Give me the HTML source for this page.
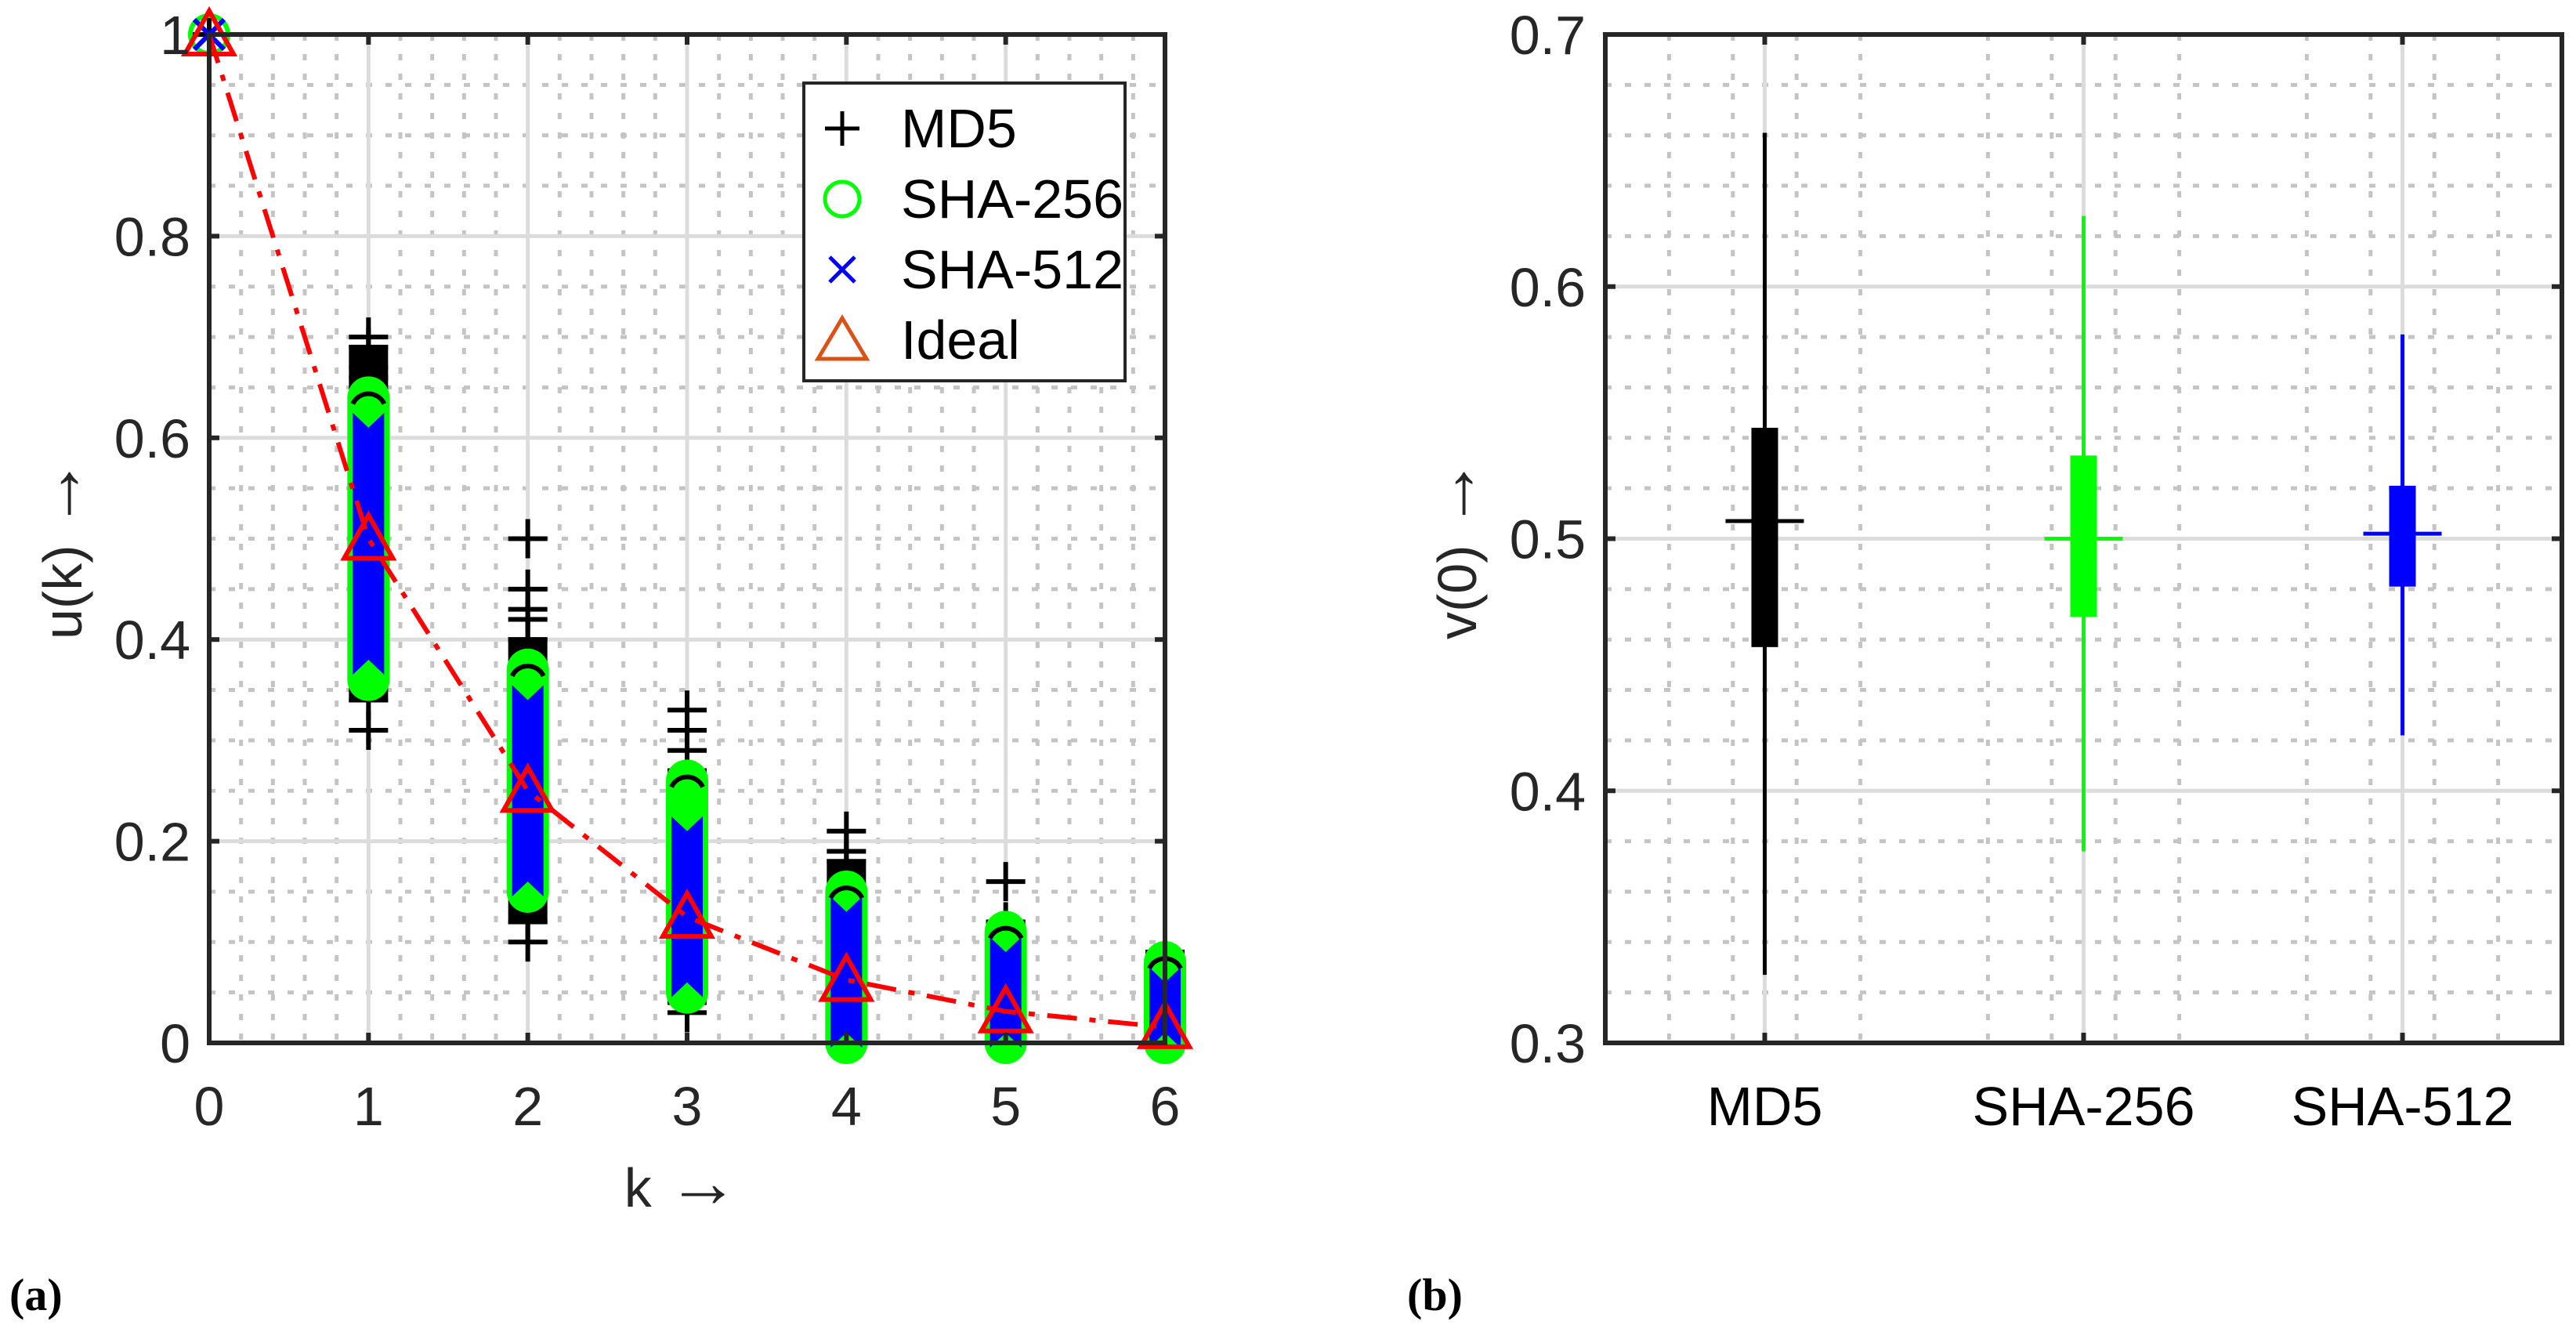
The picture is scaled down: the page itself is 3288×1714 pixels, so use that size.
<!DOCTYPE html>
<html><head><meta charset="utf-8"><style>
html,body{margin:0;padding:0;background:#fff;}
svg{display:block;}
text{font-family:"Liberation Sans",sans-serif;fill:#262626;}
</style></head><body>
<svg id="fig" width="3288" height="1714" viewBox="0 0 3288 1714" xmlns="http://www.w3.org/2000/svg">
<g id="pa"></g>
<g id="pb"></g>
<text x="12" y="1672" style="font-family:'Liberation Serif',serif;font-weight:bold;font-size:58px;fill:#000">(a)</text>
<text x="1796" y="1672" style="font-family:'Liberation Serif',serif;font-weight:bold;font-size:58px;fill:#000">(b)</text>
</svg>
<script>
// ---------- Panel A data ----------
const kValues = [0,1,2,3,4,5,6];
const md5Lo = [1,0.34,0.12,0.04,0.0,0.0,0.0];
const md5Hi = [1,0.69,0.40,0.27,0.18,0.12,0.09];
const md5Outliers = [[],[0.31,0.66,0.67,0.70],[0.10,0.42,0.43,0.45,0.50],[0.03,0.29,0.31,0.33],[0.19,0.21],[0.16],[]];
const sha256Lo = [1,0.36,0.15,0.05,0.0,0.0,0.0];
const sha256Hi = [1,0.64,0.37,0.26,0.15,0.11,0.08];
const sha512Lo = [1,0.38,0.16,0.06,0.01,0.01,0.01];
const sha512Hi = [1,0.61,0.34,0.21,0.13,0.09,0.06];
const idealVals = [1,0.5,0.25,0.125,0.0625,0.03125,0.015625];
const yTicksA = [0,0.2,0.4,0.6,0.8,1];
const yTickLabelsA = ["0","0.2","0.4","0.6","0.8","1"];
// ---------- Panel B data ----------
const boxCats = ["MD5","SHA-256","SHA-512"];
const boxColors = ["#000000","#00ff00","#0000ff"];
const whiskLo = [0.327,0.376,0.422];
const whiskHi = [0.661,0.628,0.581];
const q1 = [0.457,0.469,0.481];
const q3 = [0.544,0.533,0.521];
const medians = [0.507,0.500,0.502];
const yTicksB = [0.3,0.4,0.5,0.6,0.7];
const yTickLabelsB = ["0.3","0.4","0.5","0.6","0.7"];

const NS="http://www.w3.org/2000/svg";
function mk(parent,tag,attrs,txt){const e=document.createElementNS(NS,tag);for(const k in attrs)e.setAttribute(k,attrs[k]);if(txt!==undefined)e.textContent=txt;parent.appendChild(e);return e;}
const FS=70;

// ---------- Panel A ----------
const A={x0:267,x1:1487,y0:1331,y1:44};
const xA=v=>A.x0+(v-0)/(6-0)*(A.x1-A.x0);
const yA=v=>A.y0-(v-0)/(1-0)*(A.y0-A.y1);
const pa=document.getElementById('pa');
for(let i=0;i<=30;i++){const v=i*0.2;if(i%5===0)continue;
 const l=mk(pa,'line',{x1:xA(v),x2:xA(v),y1:A.y1,y2:A.y0,stroke:'#c4c4c4','stroke-width':5,'stroke-dasharray':'8 17'});
 }
for(let i=0;i<=20;i++){const v=i*0.05;if(i%4===0)continue;
 const l=mk(pa,'line',{x1:A.x0,x2:A.x1,y1:yA(v),y2:yA(v),stroke:'#c4c4c4','stroke-width':5,'stroke-dasharray':'8 17'});
 }
kValues.forEach(k=>{const l=mk(pa,'line',{x1:xA(k),x2:xA(k),y1:A.y1,y2:A.y0,stroke:'#dcdcdc','stroke-width':5});
 });
yTicksA.forEach(v=>{const l=mk(pa,'line',{x1:A.x0,x2:A.x1,y1:yA(v),y2:yA(v),stroke:'#dcdcdc','stroke-width':5});
 });
const sg=mk(pa,'g',{});

function plus(g,cx,cy){mk(g,'path',{d:`M${cx-25},${cy}H${cx+25}M${cx},${cy-25}V${cy+25}`,stroke:'#000','stroke-width':6,fill:'none'});}
kValues.forEach((k,i)=>{
 const cx=xA(k);
 const g1=mk(sg,'g',{});
 
 mk(g1,'rect',{x:cx-25,y:yA(md5Hi[i])-3,width:50,height:Math.max(6,yA(md5Lo[i])-yA(md5Hi[i])+6),fill:'#000'});
 plus(g1,cx,yA(md5Hi[i]));plus(g1,cx,yA(md5Lo[i]));
 md5Outliers[i].forEach(v=>plus(g1,cx,yA(v)));
 const g2=mk(sg,'g',{});
 
 const top=yA(sha256Hi[i]),bot=yA(sha256Lo[i]);
 if(bot-top<2){mk(g2,'circle',{cx:cx,cy:top,r:24,fill:'none',stroke:'#00ff00','stroke-width':6});}
 else{mk(g2,'rect',{x:cx-27,y:top-27,width:54,height:bot-top+54,rx:27,ry:27,fill:'#00ff00'});
  mk(g2,'path',{d:`M${cx-20},${top+8} A22 22 0 0 1 ${cx+20},${top+8}`,stroke:'#000','stroke-width':6,fill:'none'});}
 const g3=mk(sg,'g',{});
 
 const t3=yA(sha512Hi[i]),b3=yA(sha512Lo[i]);
 if(b3-t3<2){mk(g3,'path',{d:`M${cx-19},${t3-19}L${cx+19},${t3+19}M${cx+19},${t3-19}L${cx-19},${t3+19}`,stroke:'#0000ff','stroke-width':6});}
 else mk(g3,'path',{d:`M${cx-20},${t3-19}L${cx},${t3}L${cx+20},${t3-19}V${b3+19}L${cx},${b3}L${cx-20},${b3+19}Z`,fill:'#0000ff'});
});
let dpath='';idealVals.forEach((v,i)=>{dpath+=(i?'L':'M')+xA(kValues[i])+','+yA(v);});
const il=mk(pa,'path',{d:dpath,fill:'none',stroke:'#ff0000','stroke-width':6,'stroke-dasharray':'38 16 8 16'});

idealVals.forEach((v,i)=>{const cx=xA(kValues[i]),cy=yA(v);
 const t=mk(pa,'path',{d:`M${cx},${cy-30}L${cx+31},${cy+25}L${cx-31},${cy+25}Z`,fill:'none',stroke:'#ff0000','stroke-width':6});
 });
const ba=mk(pa,'rect',{x:A.x0,y:A.y1,width:A.x1-A.x0,height:A.y0-A.y1,fill:'none',stroke:'#262626','stroke-width':6});

kValues.forEach(k=>{mk(pa,'line',{x1:xA(k),x2:xA(k),y1:A.y0,y2:A.y0-13,stroke:'#262626','stroke-width':6});mk(pa,'line',{x1:xA(k),x2:xA(k),y1:A.y1,y2:A.y1+13,stroke:'#262626','stroke-width':6});
 const t=mk(pa,'text',{x:xA(k),y:1436,'text-anchor':'middle','font-size':FS},String(k));
 });
yTicksA.forEach((v,i)=>{mk(pa,'line',{x1:A.x0,x2:A.x0+13,y1:yA(v),y2:yA(v),stroke:'#262626','stroke-width':6});mk(pa,'line',{x1:A.x1,x2:A.x1-13,y1:yA(v),y2:yA(v),stroke:'#262626','stroke-width':6});
 const t=mk(pa,'text',{x:243,y:yA(v)+25,'text-anchor':'end','font-size':FS},yTickLabelsA[i]);
 });
const xt=mk(pa,'text',{x:870,y:1540,'text-anchor':'middle','font-size':FS},'k  ');
mk(xt,'tspan',{'font-size':92},'→');

const yt=mk(pa,'text',{x:0,y:0,'text-anchor':'middle','font-size':FS,transform:'translate(104,700) rotate(-90)'},'u(k)  ');
mk(yt,'tspan',{'font-size':92},'→');

const lg=mk(pa,'g',{});

mk(lg,'rect',{x:1026,y:106,width:410,height:380,fill:'#fff',stroke:'#262626','stroke-width':4});
const legNames=['MD5','SHA-256','SHA-512','Ideal'];const legY=[164,254,344,434];
legNames.forEach((n,i)=>{const y=legY[i],x=1075;const e=mk(lg,'g',{});
 
 if(i===0)mk(e,'path',{d:`M${x-22},${y}H${x+22}M${x},${y-22}V${y+22}`,stroke:'#000','stroke-width':5});
 if(i===1)mk(e,'circle',{cx:x,cy:y,r:22,fill:'none',stroke:'#00ff00','stroke-width':5});
 if(i===2)mk(e,'path',{d:`M${x-16},${y-16}L${x+16},${y+16}M${x+16},${y-16}L${x-16},${y+16}`,stroke:'#0000ff','stroke-width':5});
 if(i===3)mk(e,'path',{d:`M${x},${y-28}L${x+31},${y+24}L${x-31},${y+24}Z`,fill:'none',stroke:'#d95319','stroke-width':5});
 mk(e,'text',{x:1150,y:y+24,'font-size':FS,style:'fill:#000'},n);});

// ---------- Panel B ----------
const B={x0:2049,x1:3270,y0:1331,y1:44};
const xB=v=>B.x0+(v-0.5)/3*(B.x1-B.x0);
const yB=v=>B.y0-(v-0.3)/0.4*(B.y0-B.y1);
const pb=document.getElementById('pb');
for(let i=0;i<=15;i++){if(i%5===0)continue;const v=0.5+i*0.2;
 const l=mk(pb,'line',{x1:xB(v),x2:xB(v),y1:B.y1,y2:B.y0,stroke:'#c4c4c4','stroke-width':5,'stroke-dasharray':'8 17'});
 }
for(let i=0;i<=20;i++){if(i%5===0)continue;const v=0.3+i*0.02;
 const l=mk(pb,'line',{x1:B.x0,x2:B.x1,y1:yB(v),y2:yB(v),stroke:'#c4c4c4','stroke-width':5,'stroke-dasharray':'8 17'});
 }
boxCats.forEach((c,i)=>{const l=mk(pb,'line',{x1:xB(i+1),x2:xB(i+1),y1:B.y1,y2:B.y0,stroke:'#dcdcdc','stroke-width':5});
 });
yTicksB.forEach(v=>{const l=mk(pb,'line',{x1:B.x0,x2:B.x1,y1:yB(v),y2:yB(v),stroke:'#dcdcdc','stroke-width':5});
 });
boxCats.forEach((c,i)=>{const cx=xB(i+1),col=boxColors[i];const g=mk(pb,'g',{});
 
 mk(g,'line',{x1:cx,x2:cx,y1:yB(whiskLo[i]),y2:yB(whiskHi[i]),stroke:col,'stroke-width':5});
 mk(g,'rect',{x:cx-17,y:yB(q3[i]),width:34,height:yB(q1[i])-yB(q3[i]),fill:col});
 mk(g,'line',{x1:cx-50,x2:cx+50,y1:yB(medians[i]),y2:yB(medians[i]),stroke:col,'stroke-width':5});
 const t=mk(pb,'text',{x:cx,y:1436,'text-anchor':'middle','font-size':FS,style:'fill:#000'},c);
 
 mk(pb,'line',{x1:cx,x2:cx,y1:B.y0,y2:B.y0-13,stroke:'#262626','stroke-width':6});
 mk(pb,'line',{x1:cx,x2:cx,y1:B.y1,y2:B.y1+13,stroke:'#262626','stroke-width':6});});
const bb=mk(pb,'rect',{x:B.x0,y:B.y1,width:B.x1-B.x0,height:B.y0-B.y1,fill:'none',stroke:'#262626','stroke-width':6});

yTicksB.forEach((v,i)=>{mk(pb,'line',{x1:B.x0,x2:B.x0+13,y1:yB(v),y2:yB(v),stroke:'#262626','stroke-width':6});mk(pb,'line',{x1:B.x1,x2:B.x1-13,y1:yB(v),y2:yB(v),stroke:'#262626','stroke-width':6});
 const t=mk(pb,'text',{x:2024,y:yB(v)+25,'text-anchor':'end','font-size':FS},yTickLabelsB[i]);
 });
const yt2=mk(pb,'text',{x:0,y:0,'text-anchor':'middle','font-size':FS,transform:'translate(1884,700) rotate(-90)'},'v(0)  ');
mk(yt2,'tspan',{'font-size':92},'→');

</script>
</body></html>
